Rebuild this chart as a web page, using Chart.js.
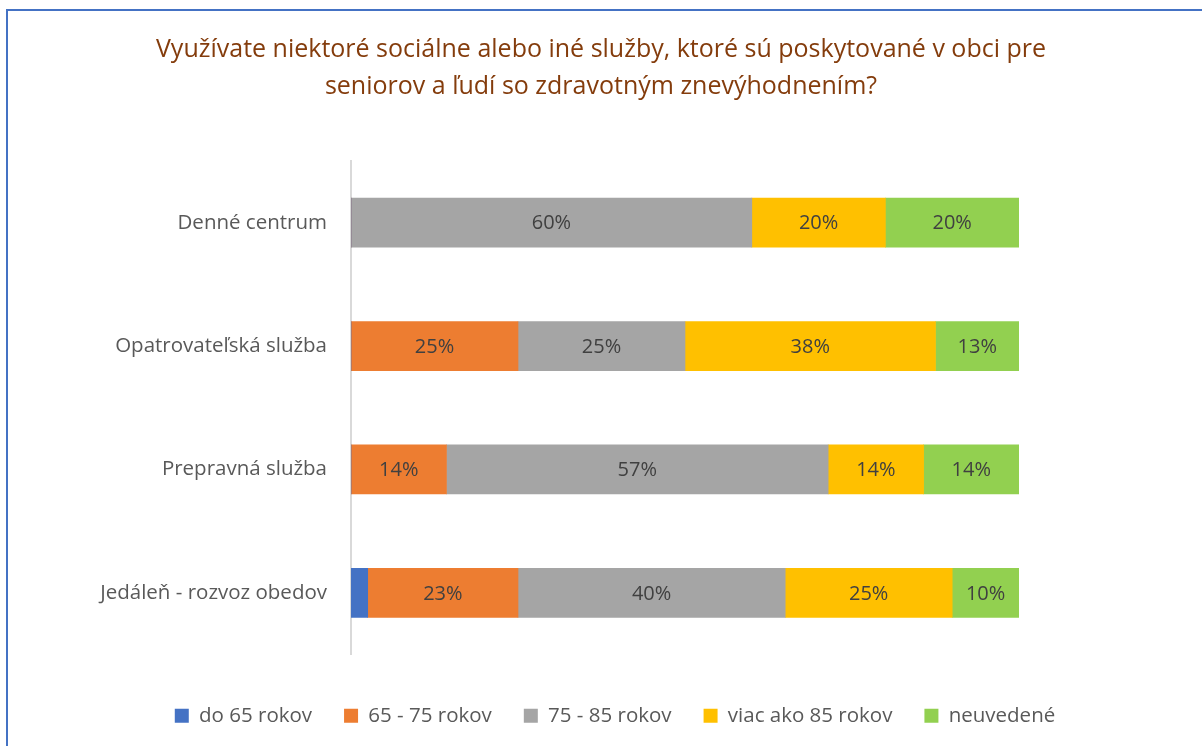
<!DOCTYPE html>
<html>
<head>
<meta charset="utf-8">
<script src="https://cdn.jsdelivr.net/npm/chart.js@4.4.1/dist/chart.umd.min.js"></script>
<style>
  html, body { margin: 0; padding: 0; width: 1202px; height: 746px; overflow: hidden; background: #fff; }
  #frame { position: absolute; left: 6px; top: 9px; width: 1300px; height: 900px; border: 2px solid #4472C4; box-sizing: border-box; }
  #wrap { position: absolute; left: 0; top: 0; width: 1202px; height: 746px; }
</style>
</head>
<body>
<div id="frame"></div>
<div id="wrap"><canvas id="c" width="1202" height="746"></canvas></div>
<script>
const titleLines = ['Využívate niektoré sociálne alebo iné služby, ktoré sú poskytované v obci pre', 'seniorov a ľudí so zdravotným znevýhodnením?'];
const categories = ['Denné centrum', 'Opatrovateľská služba', 'Prepravná služba', 'Jedáleň - rozvoz obedov'];
const seriesNames = ['do 65 rokov', '65 - 75 rokov', '75 - 85 rokov', 'viac ako 85 rokov', 'neuvedené'];
const do65 = [0, 0, 0, 2.5];
const r65_75 = [0, 25, 14.29, 22.5];
const r75_85 = [60, 25, 57.14, 40];
const nad85 = [20, 37.5, 14.29, 25];
const neuvedene = [20, 12.5, 14.28, 10];
const seriesColors = ['#4472C4', '#ED7D31', '#A5A5A5', '#FFC000', '#92D050'];

const FONT = 'Open Sans';
const values = [do65, r65_75, r75_85, nad85, neuvedene];

const dataLabels = {
  id: 'dataLabels',
  afterDatasetsDraw(chart) {
    const ctx = chart.ctx;
    ctx.save();
    ctx.font = '20px "' + FONT + '"';
    ctx.fillStyle = '#404040';
    ctx.textAlign = 'center';
    ctx.textBaseline = 'middle';
    chart.data.datasets.forEach((ds, i) => {
      const meta = chart.getDatasetMeta(i);
      meta.data.forEach((el, j) => {
        const v = ds.data[j];
        if (v >= 5) {
          ctx.fillText(Math.round(v) + '%', (el.x + el.base) / 2, el.y + 1);
        }
      });
    });
    ctx.restore();
  }
};

const legendShift = {
  id: 'legendShift',
  afterLayout(chart) {
    if (chart.legend) {
      chart.legend.left += 14;
      chart.legend.right += 14;
    }
  }
};

new Chart(document.getElementById('c'), {
  type: 'bar',
  data: {
    labels: categories,
    datasets: seriesNames.map((n, i) => ({
      label: n,
      data: values[i],
      backgroundColor: seriesColors[i],
      borderWidth: 0,
      barThickness: 49
    }))
  },
  options: {
    indexAxis: 'y',
    responsive: false,
    animation: false,
    layout: { padding: { left: 0, right: 0, top: 0, bottom: 10 } },
    scales: {
      x: {
        stacked: true, min: 0, max: 100, display: true,
        grid: { display: false, drawTicks: false },
        border: { display: false },
        ticks: { display: false },
        afterFit(s) { s.height = 19; }
      },
      y: {
        stacked: true,
        grid: { display: false, drawTicks: false },
        border: { display: true, color: '#D9D9D9', width: 2 },
        ticks: { color: '#595959', font: { family: FONT, size: 20.5 }, padding: 24 },
        afterFit(s) { s.width = 351; }
      },
      y2: {
        position: 'right',
        type: 'category',
        labels: categories,
        grid: { display: false, drawTicks: false },
        border: { display: false },
        ticks: { display: false },
        afterFit(s) { s.width = 183; }
      }
    },
    plugins: {
      title: {
        display: true,
        text: titleLines,
        color: '#843C0C',
        font: { family: FONT, size: 25, weight: 'normal', lineHeight: 1.48 },
        padding: { top: 31, bottom: 56 }
      },
      legend: {
        position: 'bottom',
        labels: {
          color: '#595959',
          font: { family: FONT, size: 20.5 },
          boxWidth: 14,
          boxHeight: 14,
          padding: 32
        }
      },
      tooltip: { enabled: false }
    }
  },
  plugins: [dataLabels, legendShift]
});
</script>
</body>
</html>
